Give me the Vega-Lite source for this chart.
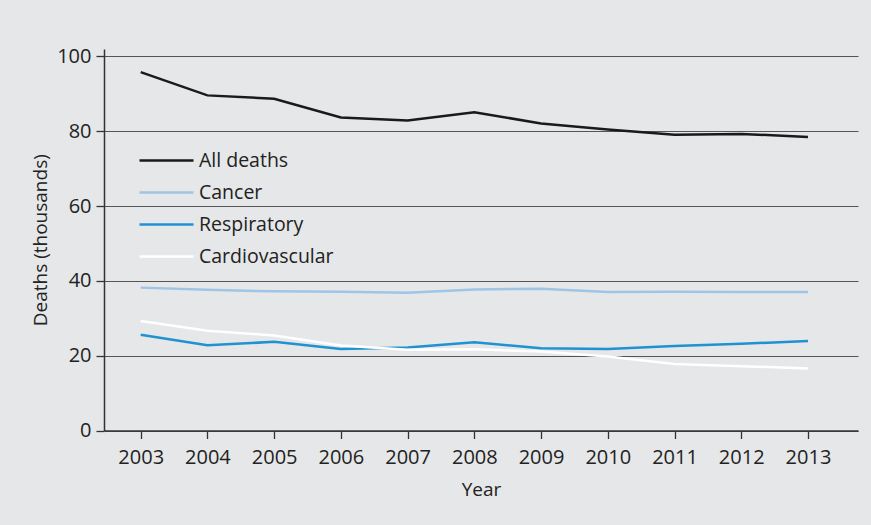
{
  "$schema": "https://vega.github.io/schema/vega-lite/v6.json",
  "width": 754,
  "height": 381.5,
  "autosize": {"type": "none"},
  "padding": {"left": 104, "top": 49, "right": 13, "bottom": 94.5},
  "background": "#e6e7e8",
  "data": {
    "values": [
      {"Year": 2003, "Cause": "All deaths", "Deaths": 95.8},
      {"Year": 2004, "Cause": "All deaths", "Deaths": 89.6},
      {"Year": 2005, "Cause": "All deaths", "Deaths": 88.7},
      {"Year": 2006, "Cause": "All deaths", "Deaths": 83.7},
      {"Year": 2007, "Cause": "All deaths", "Deaths": 82.9},
      {"Year": 2008, "Cause": "All deaths", "Deaths": 85.1},
      {"Year": 2009, "Cause": "All deaths", "Deaths": 82.1},
      {"Year": 2010, "Cause": "All deaths", "Deaths": 80.5},
      {"Year": 2011, "Cause": "All deaths", "Deaths": 79.1},
      {"Year": 2012, "Cause": "All deaths", "Deaths": 79.3},
      {"Year": 2013, "Cause": "All deaths", "Deaths": 78.5},
      {"Year": 2003, "Cause": "Cancer", "Deaths": 38.2},
      {"Year": 2004, "Cause": "Cancer", "Deaths": 37.6},
      {"Year": 2005, "Cause": "Cancer", "Deaths": 37.2},
      {"Year": 2006, "Cause": "Cancer", "Deaths": 37.1},
      {"Year": 2007, "Cause": "Cancer", "Deaths": 36.8},
      {"Year": 2008, "Cause": "Cancer", "Deaths": 37.7},
      {"Year": 2009, "Cause": "Cancer", "Deaths": 37.9},
      {"Year": 2010, "Cause": "Cancer", "Deaths": 37.0},
      {"Year": 2011, "Cause": "Cancer", "Deaths": 37.1},
      {"Year": 2012, "Cause": "Cancer", "Deaths": 37.0},
      {"Year": 2013, "Cause": "Cancer", "Deaths": 37.0},
      {"Year": 2003, "Cause": "Respiratory", "Deaths": 25.6},
      {"Year": 2004, "Cause": "Respiratory", "Deaths": 22.8},
      {"Year": 2005, "Cause": "Respiratory", "Deaths": 23.7},
      {"Year": 2006, "Cause": "Respiratory", "Deaths": 21.8},
      {"Year": 2007, "Cause": "Respiratory", "Deaths": 22.2},
      {"Year": 2008, "Cause": "Respiratory", "Deaths": 23.6},
      {"Year": 2009, "Cause": "Respiratory", "Deaths": 22.0},
      {"Year": 2010, "Cause": "Respiratory", "Deaths": 21.8},
      {"Year": 2011, "Cause": "Respiratory", "Deaths": 22.6},
      {"Year": 2012, "Cause": "Respiratory", "Deaths": 23.2},
      {"Year": 2013, "Cause": "Respiratory", "Deaths": 23.9},
      {"Year": 2003, "Cause": "Cardiovascular", "Deaths": 29.3},
      {"Year": 2004, "Cause": "Cardiovascular", "Deaths": 26.7},
      {"Year": 2005, "Cause": "Cardiovascular", "Deaths": 25.4},
      {"Year": 2006, "Cause": "Cardiovascular", "Deaths": 22.7},
      {"Year": 2007, "Cause": "Cardiovascular", "Deaths": 21.6},
      {"Year": 2008, "Cause": "Cardiovascular", "Deaths": 21.7},
      {"Year": 2009, "Cause": "Cardiovascular", "Deaths": 21.1},
      {"Year": 2010, "Cause": "Cardiovascular", "Deaths": 19.8},
      {"Year": 2011, "Cause": "Cardiovascular", "Deaths": 17.8},
      {"Year": 2012, "Cause": "Cardiovascular", "Deaths": 17.2},
      {"Year": 2013, "Cause": "Cardiovascular", "Deaths": 16.6}
    ]
  },
  "mark": {"type": "line", "strokeWidth": 2.5},
  "encoding": {
    "x": {
      "field": "Year",
      "type": "quantitative",
      "scale": {"domain": [2002.45, 2013.75], "nice": false, "zero": false},
      "axis": {
        "values": [2003, 2004, 2005, 2006, 2007, 2008, 2009, 2010, 2011, 2012, 2013],
        "format": "d",
        "grid": false,
        "title": "Year",
        "labelPadding": 9,
        "titlePadding": 13
      }
    },
    "y": {
      "field": "Deaths",
      "type": "quantitative",
      "scale": {"domain": [0, 102], "nice": false},
      "axis": {
        "values": [0, 20, 40, 60, 80, 100],
        "grid": true,
        "title": "Deaths (thousands)",
        "labelPadding": 5,
        "titlePadding": 6
      }
    },
    "color": {
      "field": "Cause",
      "type": "nominal",
      "sort": ["All deaths", "Cancer", "Respiratory", "Cardiovascular"],
      "scale": {
        "domain": ["All deaths", "Cancer", "Respiratory", "Cardiovascular"],
        "range": ["#1a1a1a", "#9fc4e6", "#1f92d1", "#ffffff"]
      },
      "legend": {
        "title": null,
        "orient": "none",
        "legendX": 34,
        "legendY": 101,
        "symbolType": "M-1,0L5,0",
        "symbolSize": 324,
        "symbolStrokeWidth": 2.5,
        "labelOffset": 40,
        "labelFontSize": 19.5,
        "labelFont": "Open Sans",
        "labelColor": "#222222",
        "rowPadding": 12,
        "padding": 0
      }
    }
  },
  "config": {
    "view": {"stroke": null},
    "axis": {
      "labelFont": "Open Sans",
      "labelFontSize": 20,
      "labelColor": "#222222",
      "titleFont": "Open Sans",
      "titleFontSize": 19,
      "titleFontWeight": "normal",
      "titleColor": "#222222",
      "tickColor": "#333333",
      "tickSize": 8,
      "tickWidth": 1.3,
      "domainColor": "#333333",
      "domainWidth": 1.5,
      "gridColor": "#555555",
      "gridWidth": 1.2,
      "gridOpacity": 1
    }
  }
}
